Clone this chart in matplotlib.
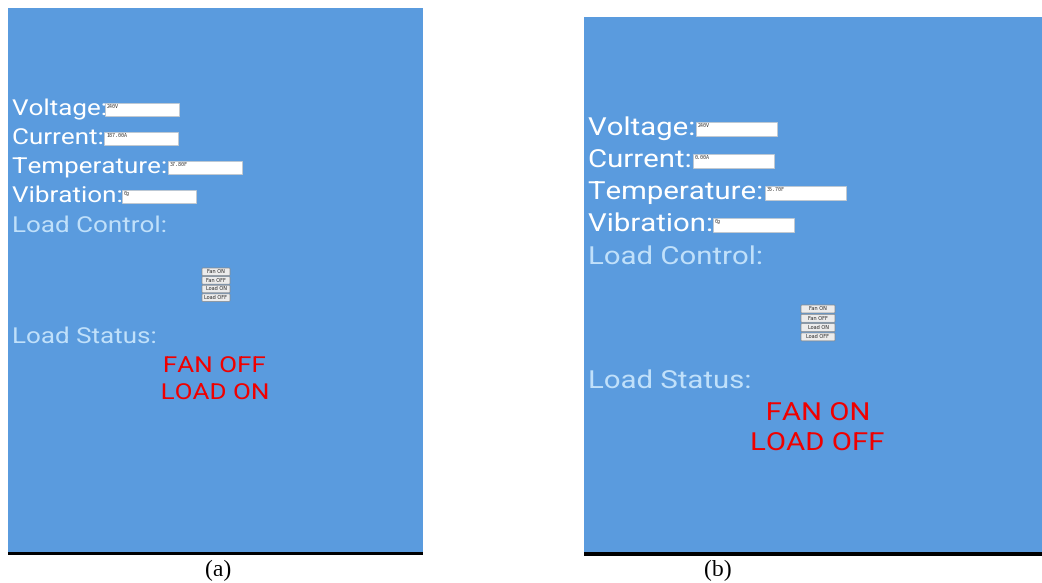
import matplotlib.pyplot as plt
from matplotlib.patches import Rectangle, FancyBboxPatch, PathPatch
from matplotlib.textpath import TextPath
from matplotlib.font_manager import FontProperties
from matplotlib.transforms import Affine2D

# screen contents of the two app screenshots
field_labels = ['Voltage:', 'Current:', 'Temperature:', 'Vibration:']
values_a = ['240V', '187.00A', '37.80F', '0g']
values_b = ['240V', '0.00A', '35.70F', '0g']
button_labels = ['Fan ON', 'Fan OFF', 'Load ON', 'Load OFF']
status_a = ['FAN OFF', 'LOAD ON']
status_b = ['FAN ON', 'LOAD OFF']
captions = ['(a)', '(b)']

BG = '#5a9bde'
PALE = '#c0e0fa'
ROBOTO = FontProperties(family='Roboto')

fig = plt.figure(figsize=(10.42, 5.83), dpi=100)
ax = fig.add_axes([0, 0, 1, 1])
ax.set_xlim(0, 1042)
ax.set_ylim(583, 0)
ax.axis('off')


def wide_text(x, y, s, em, sx, color, ha='left'):
    # the phone screenshots are stretched sideways, so draw the text as a path
    tp = TextPath((0, 0), s, size=em, prop=ROBOTO)
    ext = tp.get_extents()
    if ha == 'center':
        x = x - (ext.x0 + ext.width / 2) * sx
    tr = Affine2D().scale(sx, -1).translate(x, y) + ax.transData
    ax.add_patch(PathPatch(tp, facecolor=color, edgecolor='none', transform=tr))


panels = [
    dict(x0=8, y0=8, x1=423, y1=552, em=22.0, volt_w=93,
         rows=[115, 144, 173, 202], ctrl_y=232,
         box_x=[105, 104, 168, 122], box_w=74, box_h=13,
         btn_x=202, btn_y=268, btn_w=28, btn_h=7.6, btn_gap=8.6,
         stat_label_y=343, stat_x=215, stat_y=[372, 399],
         values=values_a, status=status_a, cap_x=218, line_w=3),
    dict(x0=584, y0=17, x1=1042, y1=552, em=24.9, volt_w=105,
         rows=[135, 167, 199, 231], ctrl_y=264,
         box_x=[696, 693, 765, 713], box_w=81, box_h=14,
         btn_x=801, btn_y=305, btn_w=34, btn_h=8, btn_gap=9.3,
         stat_label_y=388, stat_x=818, stat_y=[420, 450],
         values=values_b, status=status_b, cap_x=718, line_w=4),
]

for p, cap in zip(panels, captions):
    ax.add_patch(Rectangle((p['x0'], p['y0']), p['x1'] - p['x0'], p['y1'] - p['y0'],
                           facecolor=BG, edgecolor='none'))
    ax.add_patch(Rectangle((p['x0'], p['y1']), p['x1'] - p['x0'], p['line_w'],
                           facecolor='black', edgecolor='none'))

    sx = p['volt_w'] / TextPath((0, 0), 'Voltage:', size=p['em'], prop=ROBOTO).get_extents().width
    tx = p['x0'] + 4

    for lab, val, y, bx in zip(field_labels, p['values'], p['rows'], p['box_x']):
        wide_text(tx, y, lab, p['em'], sx, 'white')
        by = y - p['box_h'] + 1
        ax.add_patch(Rectangle((bx + 1, by + 1), p['box_w'], p['box_h'],
                               facecolor='#9aa6b2', edgecolor='none'))
        ax.add_patch(Rectangle((bx, by), p['box_w'], p['box_h'],
                               facecolor='white', edgecolor='#c0c8d0', lw=0.6))
        ax.text(bx + 2, by + 3.5, val, color='#333333', fontsize=3.6,
                family='DejaVu Sans Mono', ha='left', va='center')

    wide_text(tx, p['ctrl_y'], 'Load Control:', p['em'], sx, PALE)

    for i, b in enumerate(button_labels):
        y = p['btn_y'] + i * p['btn_gap']
        ax.add_patch(FancyBboxPatch((p['btn_x'], y), p['btn_w'], p['btn_h'],
                                    boxstyle='round,pad=0,rounding_size=1',
                                    facecolor='#ececec', edgecolor='#8a8a8a', lw=0.5))
        ax.text(p['btn_x'] + p['btn_w'] / 2, y + p['btn_h'] / 2, b, color='#222222',
                fontsize=3.6, ha='center', va='center')

    wide_text(tx, p['stat_label_y'], 'Load Status:', p['em'], sx, PALE)
    for s, y in zip(p['status'], p['stat_y']):
        wide_text(p['stat_x'], y, s, p['em'], sx, '#f00000', ha='center')

    ax.text(p['cap_x'], 570, cap, color='black', fontsize=17,
            family='Liberation Serif', ha='center', va='center')

fig.savefig('out.png', dpi=100, facecolor='white')
